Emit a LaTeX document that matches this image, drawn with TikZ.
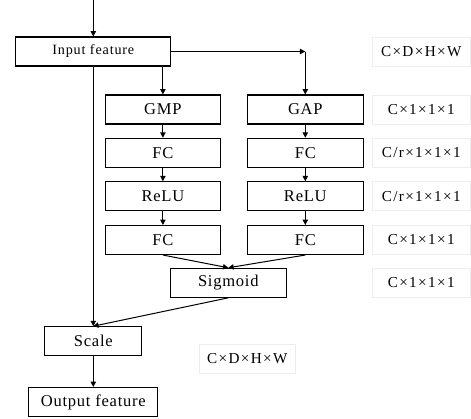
\documentclass[tikz,border=0pt]{standalone}
\usepackage{fontspec}
\setmainfont{Liberation Serif}
\newfontfamily\boxfont[LetterSpace=4.5]{Liberation Serif}
\newfontfamily\inputfont[LetterSpace=6]{Liberation Serif}
\newfontfamily\dimfont[LetterSpace=9]{Liberation Serif}
\usetikzlibrary{arrows.meta}
\def\px{0.75pt}
\tikzset{
  blk/.style={draw=black, line width=0.8pt, inner sep=0pt, minimum height=29*\px,
    font=\boxfont\fontsize{12.4}{14}\selectfont},
  dimlabel/.style={draw=black!7, line width=0.6pt, inner sep=0pt, minimum height=29*\px,
    minimum width=98*\px, font=\dimfont\fontsize{11.4}{13}\selectfont},
  link/.style={line width=0.75pt, -{Triangle[length=4pt,width=4pt]}},
}
\begin{document}
\begin{tikzpicture}[x=0.75pt, y=-0.75pt]
\useasboundingbox (0,0) rectangle (471,418);

% main blocks
\node[blk, minimum width=154.7*\px, font=\inputfont\fontsize{10.6}{12}\selectfont] (in) at (93.3,51.5) {Input feature};
\node[blk, minimum width=115.7*\px] (gmp) at (162.9,109.5) {GMP};
\node[blk, minimum width=116*\px] (gap) at (305.3,109.5) {GAP};
\node[blk, minimum width=115.7*\px] (fca) at (162.9,152.8) {FC};
\node[blk, minimum width=116*\px] (fcb) at (305.3,152.8) {FC};
\node[blk, minimum width=115.7*\px] (rla) at (162.9,196.3) {ReLU};
\node[blk, minimum width=116*\px] (rlb) at (305.3,196.3) {ReLU};
\node[blk, minimum width=115.7*\px] (fcc) at (162.9,240) {FC};
\node[blk, minimum width=116*\px] (fcd) at (305.3,240) {FC};
\node[blk, minimum width=116*\px] (sig) at (228.3,282.8) {Sigmoid};
\node[blk, minimum width=96.7*\px] (scl) at (93.3,341.2) {Scale};
\node[blk, minimum width=128.7*\px] (out) at (93.3,402) {Output feature};

% tensor sizes
\node[dimlabel] (d1) at (421.2,51.5) {C×D×H×W};
\node[dimlabel] (d2) at (421.2,110) {C×1×1×1};
\node[dimlabel] (d3) at (421.2,152.8) {C/r×1×1×1};
\node[dimlabel] (d4) at (421.2,196.3) {C/r×1×1×1};
\node[dimlabel] (d5) at (421.2,240) {C×1×1×1};
\node[dimlabel] (d6) at (421.2,282.8) {C×1×1×1};
\node[dimlabel, minimum width=96*\px] (d7) at (247.3,358.6) {C×D×H×W};

% connectors
\coordinate (src) at (93.3,0);
\coordinate (turn) at (305.3,51.5);
\draw[link] (src) -- (in.north);
\draw[link] (in.east) -- (turn);
\draw[link] (turn) -- (gap.north);
\draw[link] (in.south -| gmp.north) -- (gmp.north);
\draw[link] (in.south) -- (scl.north);
\draw[link] (gmp) -- (fca);
\draw[link] (gap) -- (fcb);
\draw[link] (fca) -- (rla);
\draw[link] (fcb) -- (rlb);
\draw[link] (rla) -- (fcc);
\draw[link] (rlb) -- (fcd);
\draw[link] (fcc.south) -- (sig.north);
\draw[link] (fcd.south) -- (sig.north);
\draw[link] (sig.south) -- (scl.north);
\draw[link] (scl) -- (out);
\end{tikzpicture}
\end{document}
